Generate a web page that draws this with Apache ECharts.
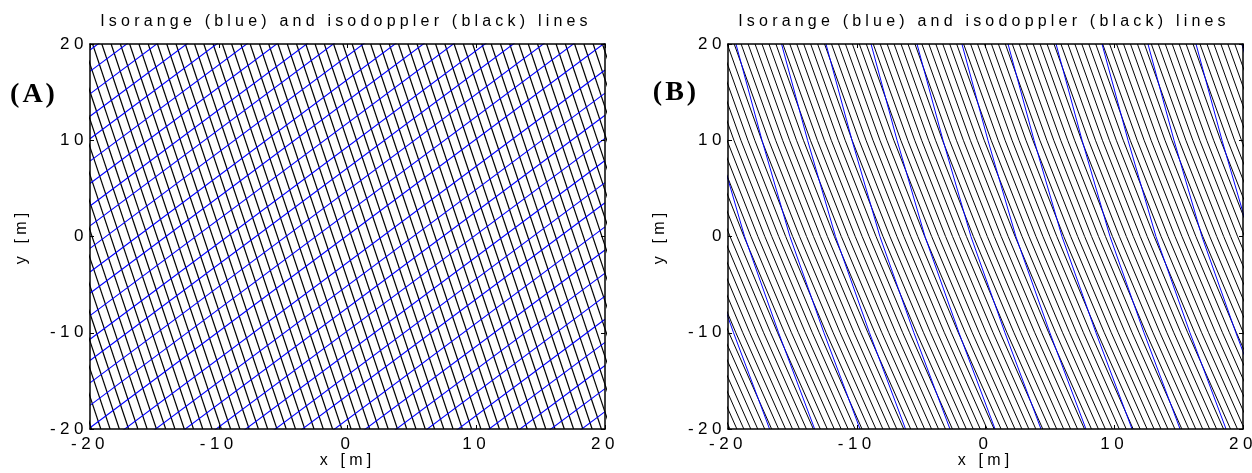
<!DOCTYPE html>
<html><head><meta charset="utf-8">
<script src="https://cdn.jsdelivr.net/npm/echarts@6/dist/echarts.min.js"></script>
<style>html,body{margin:0;padding:0;background:#fff}#c{width:1252px;height:473px}</style>
</head><body><div id="c"></div>
<script>
// ---------- text ----------
const titleText = 'Isorange (blue) and isodoppler (black) lines';
const panelLabels = ['(A)', '(B)'];
const xName = 'x [m]';
const yName = 'y [m]';
// ---------- axes ----------
const axisMin = -20;
const axisMax = 20;
const tickStep = 10;

// ---------- Panel A ----------
// isorange (blue): straight lines, shape given by two points, shifted vertically
const aBlueShapeX = [-20, 20];
const aBlueShapeY = [0, 40];
const aBlueShiftY = [19.38, 17.15, 14.82, 12.49, 10.16, 7.83, 5.5, 3.17, 1.1, -1.23, -3.69, -5.89,
  -8.22, -10.68, -12.88, -15.21, -17.54, -19.87, -22.7, -25.1, -27.4, -29.8, -32.1, -34.4, -36.5,
  -39.0, -41.4, -43.8, -46.2, -48.6, -51.0, -53.4, -55.8, -58.2];
// isodoppler (black): steep lines, shape shifted horizontally (x where each meets y=20)
const aBlackShapeX = [0, 10];
const aBlackShapeY = [20, -20];
const aBlackShiftX = [19.8, 19.08, 18.36, 17.64, 16.92, 16.2, 15.48, 14.76, 14.04, 13.32, 12.6, 11.88,
  11.16, 10.44, 9.72, 9.0, 8.28, 7.56, 6.84, 6.12, 5.4, 4.68, 3.96, 3.24, 2.52, 1.8, 1.08, 0.36, -0.36,
  -1.08, -1.8, -2.52, -3.24, -3.96, -4.68, -5.4, -6.12, -6.84, -7.56, -8.28, -9.0, -9.72, -10.44,
  -11.16, -11.88, -12.6, -13.32, -14.04, -14.76, -15.48, -16.2, -16.92, -17.64, -18.36, -19.08, -19.8,
  -20.52, -21.24, -21.96, -22.68, -23.4, -24.12, -24.84, -25.56, -26.28, -27.0, -27.72, -28.44,
  -29.16, -29.88];

// ---------- Panel B ----------
const bShapeY = [20, 10, 0, -10, -20];
const bBlueShapeX = [0, 2.02, 4.19, 6.83, 9.63];
const bBlueShiftX = [-26.4, -22.9, -19.38, -15.84, -12.39, -8.89, -5.32, -1.83, 1.75, 5.48, 9.05,
  12.62, 16.35, 19.92];
const bBlackShapeX = [0, 2.68, 5.62, 8.77, 12.09];
const bBlackShiftX = [19.9, 19.36, 18.82, 18.28, 17.74, 17.2, 16.66, 16.12, 15.58, 15.04, 14.5, 13.96,
  13.42, 12.88, 12.34, 11.8, 11.26, 10.72, 10.18, 9.64, 9.1, 8.56, 8.02, 7.48, 6.94, 6.4, 5.86, 5.32,
  4.78, 4.24, 3.7, 3.16, 2.62, 2.08, 1.54, 1.0, 0.46, -0.08, -0.62, -1.16, -1.7, -2.24, -2.78, -3.32,
  -3.86, -4.4, -4.94, -5.48, -6.02, -6.56, -7.1, -7.64, -8.18, -8.72, -9.26, -9.8, -10.34, -10.88,
  -11.42, -11.96, -12.5, -13.04, -13.58, -14.12, -14.66, -15.2, -15.74, -16.28, -16.82, -17.36, -17.9,
  -18.44, -18.98, -19.52, -20.06, -20.6, -21.14, -21.68, -22.22, -22.76, -23.3, -23.84, -24.38,
  -24.92, -25.46, -26.0, -26.54, -27.08, -27.62, -28.16, -28.7, -29.24, -29.78, -30.32, -30.86,
  -31.4, -31.94];

// ---------- letter spacing like the reference's spaced type ----------
(function () {
  const P = CanvasRenderingContext2D.prototype;
  const sp = f => /\b17px/.test(f) ? '4.5px' : /\b16px/.test(f) ? '4.2px' : /\b28px/.test(f) ? '3px' : '0px';
  const ft = P.fillText, mt = P.measureText;
  P.fillText = function (t, x, y, m) { try { this.letterSpacing = sp(this.font); } catch (e) {}
    return m === undefined ? ft.call(this, t, x, y) : ft.call(this, t, x, y, m); };
  P.measureText = function (t) { try { this.letterSpacing = sp(this.font); } catch (e) {}
    return mt.call(this, t); };
})();

function build(shapeX, shapeY, shifts, alongX) {
  return shifts.map(s => ({
    coords: shapeX.map((x, i) => alongX ? [x + s, shapeY[i]] : [x, shapeY[i] + s])
  }));
}

const FONT = '"Liberation Sans", Arial, sans-serif';
const grids = [
  { left: 90, top: 44, width: 515, height: 385, containLabel: false, outerBoundsMode: 'none' },
  { left: 728, top: 44, width: 515, height: 385, containLabel: false, outerBoundsMode: 'none' }
];

function axisBase(gi, pos, showLabel, isX) {
  return {
    type: 'value', gridIndex: gi, position: pos, min: axisMin, max: axisMax, interval: tickStep,
    z: 10,
    splitLine: { show: false },
    axisLine: { show: true, onZero: false, lineStyle: { color: '#000', width: 1.5 } },
    axisTick: { show: true, inside: true, length: 4, lineStyle: { color: '#000', width: 1 } },
    axisLabel: { show: showLabel, fontSize: 17, fontFamily: FONT, color: '#000', margin: isX ? 5 : 2 },
    name: showLabel ? (isX ? xName : yName) : '',
    nameLocation: 'middle',
    nameMoveOverlap: false,
    nameGap: isX ? 21 : 58,
    nameTextStyle: { fontSize: 16, fontFamily: FONT, color: '#000' }
  };
}

const xAxis = [], yAxis = [];
[0, 1].forEach(gi => {
  xAxis.push(axisBase(gi, 'bottom', true, true));
  xAxis.push(axisBase(gi, 'top', false, true));
  yAxis.push(axisBase(gi, 'left', true, false));
  yAxis.push(axisBase(gi, 'right', false, false));
});

function linesSeries(gi, data, color, w) {
  return {
    type: 'lines', coordinateSystem: 'cartesian2d', xAxisIndex: gi * 2, yAxisIndex: gi * 2,
    polyline: true, clip: true, silent: true, z: 2,
    lineStyle: { color: color, width: w, opacity: 1, curveness: 0 },
    data: data
  };
}

const series = [
  linesSeries(0, build(aBlackShapeX, aBlackShapeY, aBlackShiftX, true), '#000000', 1.2),
  linesSeries(0, build(aBlueShapeX, aBlueShapeY, aBlueShiftY, false), '#0000ff', 1.1),
  linesSeries(1, build(bBlackShapeX, bShapeY, bBlackShiftX, true), '#000000', 1),
  linesSeries(1, build(bBlueShapeX, bShapeY, bBlueShiftX, true), '#0000ff', 1)
];

const graphic = [
  { type: 'text', x: 346, y: 22, style: { text: titleText, font: '16px ' + FONT, fill: '#000', textAlign: 'center', textVerticalAlign: 'middle' } },
  { type: 'text', x: 984, y: 22, style: { text: titleText, font: '16px ' + FONT, fill: '#000', textAlign: 'center', textVerticalAlign: 'middle' } },
  { type: 'text', x: 34, y: 95, style: { text: panelLabels[0], font: 'bold 28px "Liberation Serif", "Times New Roman", serif', fill: '#000', textAlign: 'center', textVerticalAlign: 'middle' } },
  { type: 'text', x: 676, y: 93, style: { text: panelLabels[1], font: 'bold 28px "Liberation Serif", "Times New Roman", serif', fill: '#000', textAlign: 'center', textVerticalAlign: 'middle' } }
];

const chart = echarts.init(document.getElementById('c'), null, { renderer: 'canvas' });
chart.setOption({ animation: false, backgroundColor: '#fff', grid: grids, xAxis, yAxis, series, graphic });
</script></body></html>
